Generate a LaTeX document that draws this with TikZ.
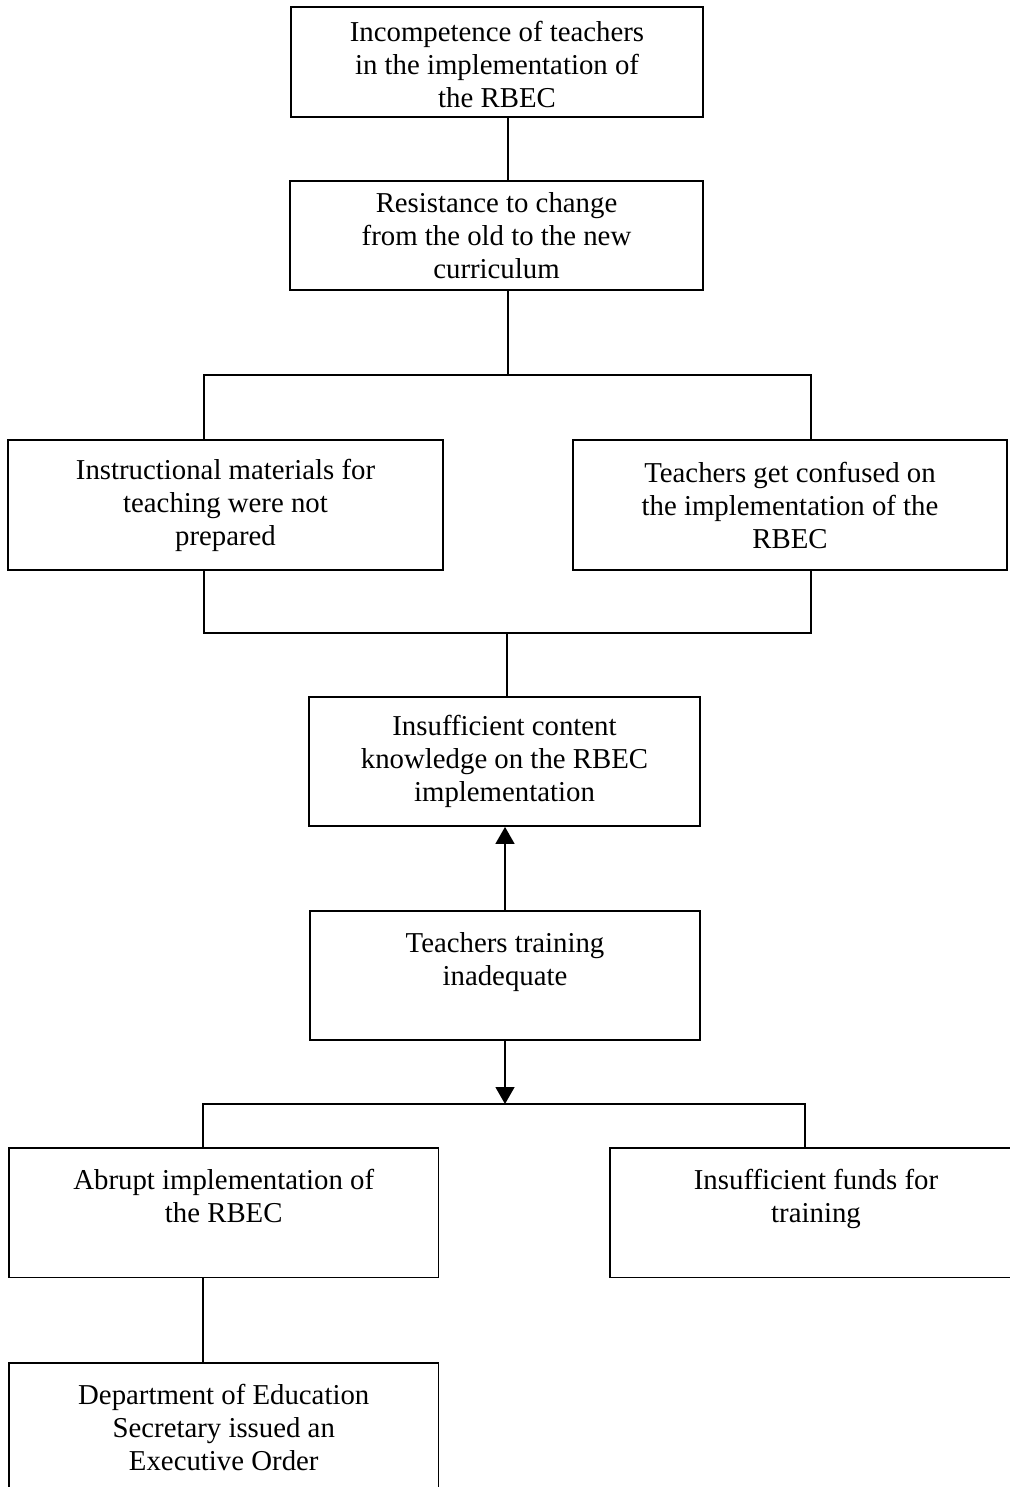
\documentclass[tikz,border=0pt]{standalone}
\usepackage{fontspec}
\setmainfont{Liberation Serif}
\usepackage{tikz}
\usetikzlibrary{arrows.meta}

\begin{document}
\begin{tikzpicture}[x=0.5pt,y=-0.5pt,
  box/.style={draw,line width=0.9pt,align=center,inner sep=0pt,
    font=\fontsize{14.4}{16.5}\selectfont},
  link/.style={line width=0.7pt},
  arr/.style={link,-{Triangle[length=8.5pt,width=9.5pt]}}]
\useasboundingbox (0,0) rectangle (1010,1487);

\node[box,minimum width=206pt,minimum height=55pt] (incompetence) at (497,62)
  {\\[-4pt]Incompetence of teachers\\in the implementation of\\the RBEC};
\node[box,minimum width=206.5pt,minimum height=54.5pt] (resistance) at (496.5,235.5)
  {Resistance to change\\from the old to the new\\curriculum};
\node[box,minimum width=217.5pt,minimum height=65pt] (materials) at (225.5,505)
  {Instructional materials for\\teaching were not\\prepared};
\node[box,minimum width=217pt,minimum height=65pt] (confused) at (790,505)
  {Teachers get confused on\\the implementation of the\\RBEC};
\node[box,minimum width=195.5pt,minimum height=64.5pt] (knowledge) at (504.5,761.5)
  {Insufficient content\\knowledge on the RBEC\\implementation};
\node[box,minimum width=195pt,minimum height=64.5pt] (training) at (505,975.5)
  {Teachers training\\inadequate\\~};
\node[box,minimum width=214.75pt,minimum height=64.75pt] (abrupt) at (223.75,1212.75)
  {Abrupt implementation of\\the RBEC\\~};
\node[box,minimum width=206pt,minimum height=64.75pt] (funds) at (816,1212.75)
  {Insufficient funds for\\training\\~};
\node[box,minimum width=214.75pt,minimum height=64.5pt] (deped) at (223.75,1427.5)
  {Department of Education\\Secretary issued an\\Executive Order};

\coordinate (split) at (508,375);
\coordinate (splitl) at (204,375);
\coordinate (splitr) at (811,375);
\coordinate (joinl) at (204,633);
\coordinate (joinr) at (811,633);
\coordinate (join) at (507,633);
\coordinate (causes) at (505,1104);
\coordinate (causesl) at (203,1104);
\coordinate (causesr) at (805,1104);

\draw[link] (incompetence.south -| split) -- (resistance.north -| split);
\draw[link] (resistance.south -| split) -- (split);
\draw[link] (materials.north -| splitl) -- (splitl) -- (splitr) -- (confused.north -| splitr);
\draw[link] (materials.south -| joinl) -- (joinl) -- (joinr) -- (confused.south -| joinr);
\draw[link] (join) -- (knowledge.north -| join);
\draw[arr] (training.north) -- (training.north |- knowledge.south);
\draw[arr] (training.south) -- (causes);
\draw[link] (abrupt.north -| causesl) -- (causesl) -- (causesr) -- (funds.north -| causesr);
\draw[link] (abrupt.south -| causesl) -- (deped.north -| causesl);
\end{tikzpicture}
\end{document}
